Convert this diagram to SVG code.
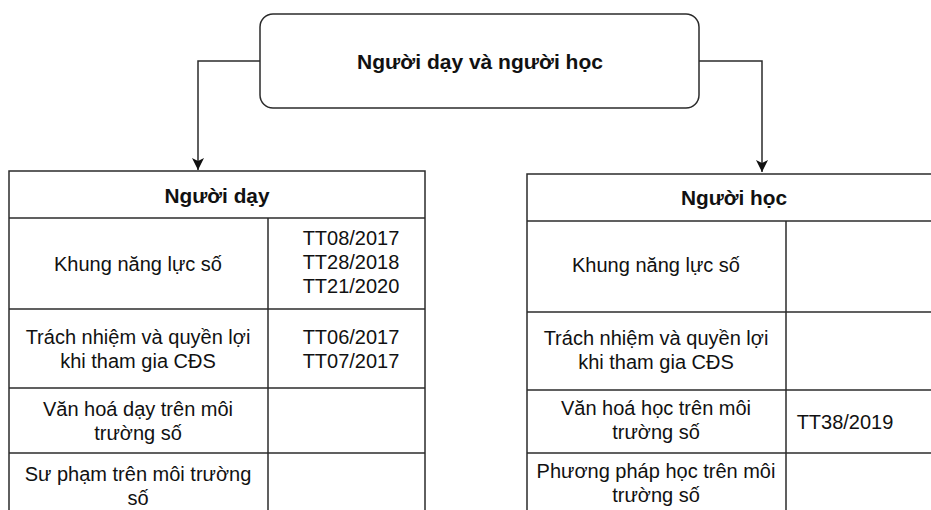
<svg xmlns="http://www.w3.org/2000/svg" width="931" height="510" viewBox="0 0 931 510">
  <style>
    .box { fill: #ffffff; stroke: #2b2b2b; stroke-width: 1.5; }
    .ln { fill: none; stroke: #2b2b2b; stroke-width: 1.5; }
    .t { font-family: "Liberation Sans", Arial, Helvetica, sans-serif; font-size: 20px; fill: #111111; text-anchor: middle; }
    .b { font-weight: bold; font-size: 20.8px; }
    .title { font-size: 21px; }
  </style>
  <defs>
    <marker id="arrow" viewBox="0 0 12 12" refX="12" refY="6" markerWidth="12" markerHeight="12" markerUnits="userSpaceOnUse" orient="auto">
      <path d="M0,0 L12,6 L0,12 L3,6 Z" fill="#111111"/>
    </marker>
  </defs>
  <rect width="931" height="510" fill="#ffffff"/>

  <!-- root node -->
  <g id="root">
    <rect class="box" x="260" y="14" width="439" height="94" rx="13" ry="13"/>
    <text class="t b title" x="480" y="69">Người dạy và người học</text>
  </g>

  <!-- connectors -->
  <g id="connectors">
    <path class="ln" d="M260,61 H198 V170" marker-end="url(#arrow)"/>
    <path class="ln" d="M699,61 H762 V172" marker-end="url(#arrow)"/>
  </g>

  <!-- teacher table -->
  <g id="teacher">
    <rect class="box" x="9" y="171" width="416" height="349"/>
    <line class="ln" x1="9" y1="218" x2="425" y2="218"/>
    <line class="ln" x1="268" y1="218" x2="268" y2="520"/>
    <line class="ln" x1="9" y1="309" x2="425" y2="309"/>
    <line class="ln" x1="9" y1="388" x2="425" y2="388"/>
    <line class="ln" x1="9" y1="453" x2="425" y2="453"/>
    <text class="t b" x="217" y="203">Người dạy</text>
    <text class="t" x="138" y="271">Khung năng lực số</text>
    <text class="t" x="351" y="245">TT08/2017</text>
    <text class="t" x="351" y="269">TT28/2018</text>
    <text class="t" x="351" y="293">TT21/2020</text>
    <text class="t" x="138" y="344">Trách nhiệm và quyền lợi</text>
    <text class="t" x="138" y="368">khi tham gia CĐS</text>
    <text class="t" x="351" y="344">TT06/2017</text>
    <text class="t" x="351" y="368">TT07/2017</text>
    <text class="t" x="138" y="416">Văn hoá dạy trên môi</text>
    <text class="t" x="138" y="440">trường số</text>
    <text class="t" x="138" y="481">Sư phạm trên môi trường</text>
    <text class="t" x="138" y="505">số</text>
  </g>

  <!-- learner table -->
  <g id="learner">
    <rect class="box" x="527" y="174" width="414" height="346"/>
    <line class="ln" x1="527" y1="221" x2="941" y2="221"/>
    <line class="ln" x1="786" y1="221" x2="786" y2="520"/>
    <line class="ln" x1="527" y1="312" x2="941" y2="312"/>
    <line class="ln" x1="527" y1="390" x2="941" y2="390"/>
    <line class="ln" x1="527" y1="453" x2="941" y2="453"/>
    <text class="t b" x="734" y="205">Người học</text>
    <text class="t" x="656" y="272">Khung năng lực số</text>
    <text class="t" x="656" y="345">Trách nhiệm và quyền lợi</text>
    <text class="t" x="656" y="369">khi tham gia CĐS</text>
    <text class="t" x="656" y="415">Văn hoá học trên môi</text>
    <text class="t" x="656" y="439">trường số</text>
    <text class="t" x="845" y="429">TT38/2019</text>
    <text class="t" x="656" y="478">Phương pháp học trên môi</text>
    <text class="t" x="656" y="502">trường số</text>
  </g>
</svg>
